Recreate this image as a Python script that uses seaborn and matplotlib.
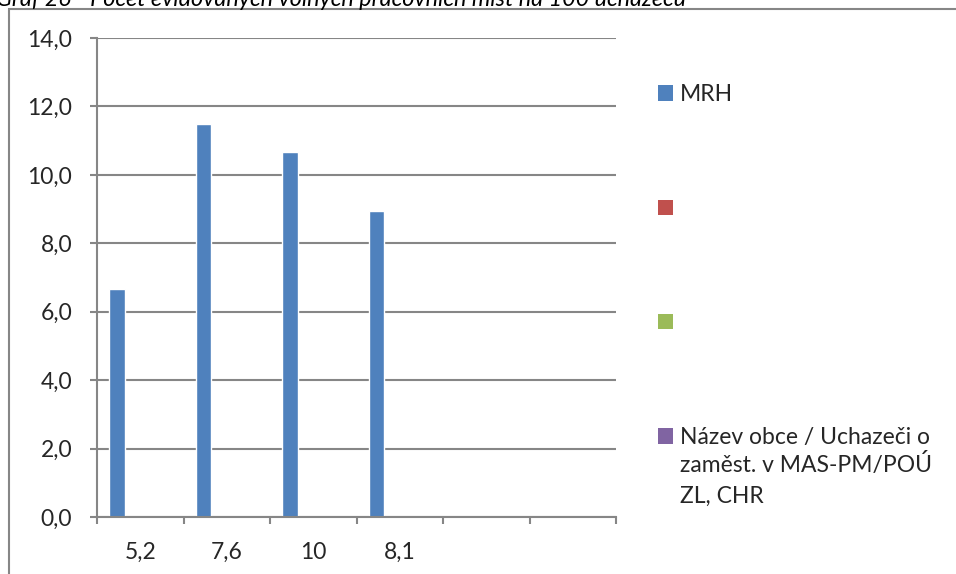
import numpy as np
import pandas as pd
import seaborn as sns
import matplotlib
matplotlib.use("Agg")
import matplotlib.pyplot as plt
from matplotlib.patches import Rectangle, Patch

# ---- data ----
categories = ["5,2", "7,6", "10", "8,1", " ", "  "]
series_names = ["MRH", "", " ", "Název obce / Uchazeči o"]
series_label_rest = "zaměst. v MAS-PM/POÚ\nZL, CHR"
series_colors = ["#4F81BD", "#C0504D", "#9BBB59", "#8064A2"]
values_mrh = [6.65, 11.48, 10.67, 8.94, np.nan, np.nan]
values_s2 = [np.nan] * 6
values_s3 = [np.nan] * 6
values_s4 = [np.nan] * 6
yticks = [0, 2, 4, 6, 8, 10, 12, 14]
ytick_labels = ["0,0", "2,0", "4,0", "6,0", "8,0", "10,0", "12,0", "14,0"]
title = "Graf 26 - Počet evidovaných volných pracovních míst na 100 uchazečů"

series_ids = ["s1", "s2", "s3", "s4"]
all_vals = [values_mrh, values_s2, values_s3, values_s4]
rows = []
for sid, vals in zip(series_ids, all_vals):
    for c, v in zip(categories, vals):
        rows.append({"cat": c, "series": sid, "value": v})
df = pd.DataFrame(rows)

sns.set_style("white")
plt.rcParams["font.family"] = ["Lato", "DejaVu Sans"]

FS = 16.5
W, H = 956, 574
fig = plt.figure(figsize=(W / 100, H / 100), dpi=100)
ax = fig.add_axes([97 / W, (H - 517) / H, (616 - 97) / W, (517 - 38) / H])

sns.barplot(data=df, x="cat", y="value", hue="series", order=categories,
            hue_order=series_ids, palette=dict(zip(series_ids, series_colors)),
            width=0.72, errorbar=None, ax=ax, legend=False, saturation=1)

grid_c = "#868686"
ax.set_ylim(0, 14)
ax.set_xlim(-0.5, len(categories) - 0.5)
ax.set_yticks(yticks)
ax.set_yticklabels(ytick_labels)
ax.yaxis.grid(True, color=grid_c, lw=1.5)
ax.set_axisbelow(True)
ax.set_xlabel("")
ax.set_ylabel("")
for s in ["top", "right"]:
    ax.spines[s].set_visible(False)
for s in ["left", "bottom"]:
    ax.spines[s].set_color(grid_c)
    ax.spines[s].set_linewidth(1.5)

ax.set_xticks(np.arange(-0.5, len(categories), 1.0))
ax.set_xticklabels([])
ax.set_xticks(np.arange(len(categories)), minor=True)
ax.set_xticklabels(categories, minor=True)
ax.tick_params(axis="x", which="major", length=5, width=1.5, color=grid_c, direction="out")
ax.tick_params(axis="x", which="minor", length=0, pad=18, labelsize=FS)
ax.tick_params(axis="y", length=5, width=1.5, color=grid_c, direction="out", pad=13, labelsize=FS)
ax.tick_params(bottom=True, left=True, which="major")

# legend
handles = [Patch(facecolor=c, edgecolor="none") for c in series_colors]
leg = fig.legend(handles, series_names, loc="upper left",
                 bbox_to_anchor=(649 / W, 1 - 75 / H), frameon=False,
                 fontsize=FS, handlelength=0.66, handleheight=0.66,
                 handletextpad=0.3, labelspacing=4.07, borderaxespad=0)
# continuation lines of the last legend label
fig.text(680 / W, 1 - 453 / H, series_label_rest, fontsize=FS,
         ha="left", va="top", linespacing=1.55)

# frame of the chart
fig.patches.append(Rectangle((9 / W, -0.1), 1.2, 1 - 9 / H + 0.1,
                             transform=fig.transFigure, fill=False,
                             edgecolor=grid_c, lw=1.5))

# title (partially cut off at top, as in the reference)
fig.text(-4 / W, 1 - 6 / H, title, fontsize=16.8, style="italic",
         ha="left", va="baseline", color="#000000")

fig.savefig("out.png", dpi=100)
